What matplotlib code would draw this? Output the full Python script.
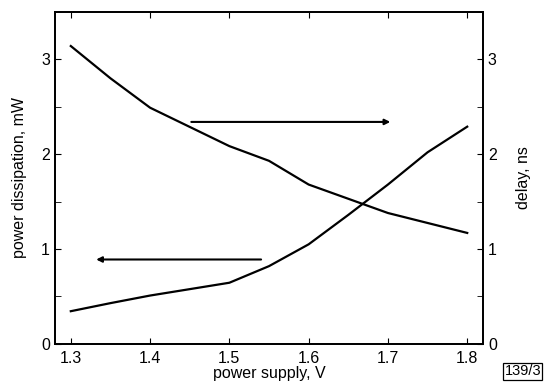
import matplotlib
matplotlib.use("Agg")
import matplotlib.pyplot as plt
from matplotlib.ticker import MultipleLocator

plt.rcParams['font.family'] = ['Liberation Sans', 'DejaVu Sans']

supply_v = [1.3, 1.35, 1.4, 1.5, 1.55, 1.6, 1.65, 1.7, 1.8]
delay_ns = [3.14, 2.80, 2.49, 2.085, 1.93, 1.68, 1.53, 1.38, 1.17]

supply_p = [1.3, 1.35, 1.4, 1.5, 1.55, 1.6, 1.65, 1.7, 1.75, 1.8]
power_mw = [0.345, 0.43, 0.51, 0.645, 0.82, 1.05, 1.36, 1.68, 2.02, 2.29]

fig = plt.figure(figsize=(5.44, 3.83), dpi=100)
ax = fig.add_axes([0.101, 0.102, 0.787, 0.867])
ax.plot(supply_p, power_mw, color='black', lw=1.6)
ax.set_xlim(1.28, 1.82)
ax.set_ylim(0, 3.5)
ax.set_xticks([1.3, 1.4, 1.5, 1.6, 1.7, 1.8])
ax.set_yticks([0, 1, 2, 3])
ax.yaxis.set_minor_locator(MultipleLocator(0.5))
ax.tick_params(direction='in', top=True, which='both', labelsize=11.5)
ax.tick_params(which='major', length=4)
ax.tick_params(which='minor', length=4)
ax.tick_params(axis='x', pad=5)
ax.set_xlabel('power supply, V', fontsize=11.5, labelpad=0)
ax.set_ylabel('power dissipation, mW', fontsize=11.5, labelpad=10)

ax2 = ax.twinx()
ax2.plot(supply_v, delay_ns, color='black', lw=1.6)
ax2.set_ylim(0, 3.5)
ax2.set_yticks([0, 1, 2, 3])
ax2.yaxis.set_minor_locator(MultipleLocator(0.5))
ax2.tick_params(direction='in', which='both', labelsize=11.5, length=4)
ax2.set_ylabel('delay, ns', fontsize=11.5, labelpad=14)

for a in (ax, ax2):
    for s in a.spines.values():
        s.set_linewidth(1.3)

# arrows pointing to axes
ax.annotate('', xy=(1.703, 2.34), xytext=(1.452, 2.34),
            arrowprops=dict(arrowstyle='-|>', color='black', lw=1.5,
                            mutation_scale=8, shrinkA=0, shrinkB=0))
ax.annotate('', xy=(1.332, 0.89), xytext=(1.54, 0.89),
            arrowprops=dict(arrowstyle='-|>', color='black', lw=1.5,
                            mutation_scale=8, shrinkA=0, shrinkB=0))

fig.text(0.995, 0.012, '139/3', fontsize=10.5, ha='right', va='bottom',
         bbox=dict(boxstyle='square,pad=0.08', fc='white', ec='black', lw=0.9))

fig.savefig('out.png', dpi=100)
